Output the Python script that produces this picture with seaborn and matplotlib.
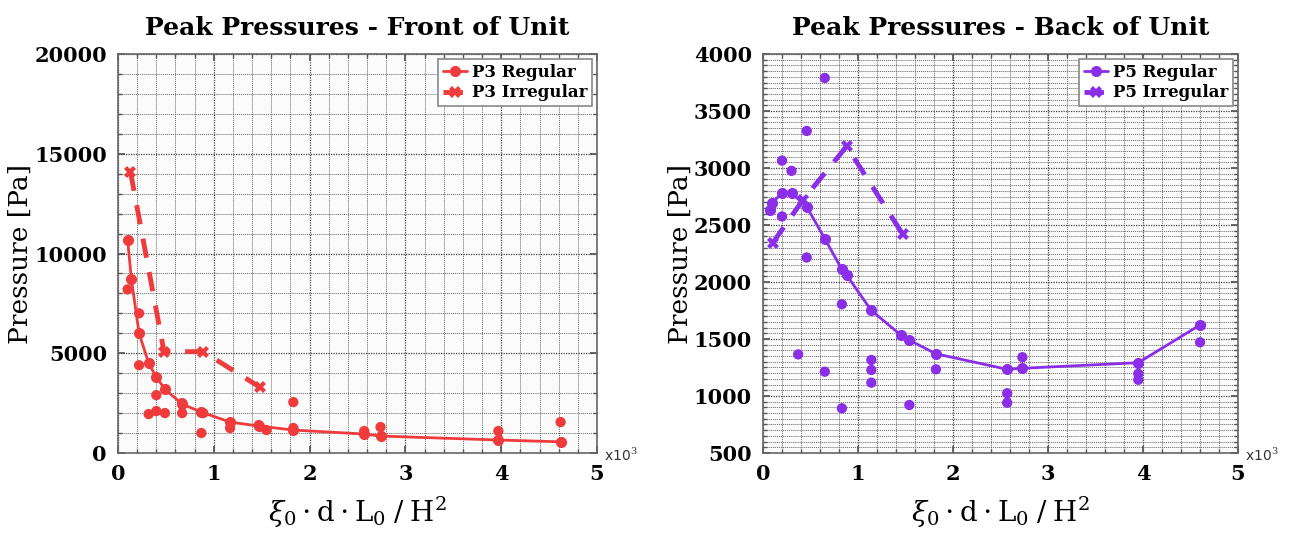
import numpy as np
import pandas as pd
import matplotlib
matplotlib.use("Agg")
import matplotlib.pyplot as plt
import seaborn as sns
from matplotlib.ticker import MultipleLocator

# front of unit (P3), x in units of 1e3
p3_reg_x = [0.10, 0.14, 0.22, 0.32, 0.40, 0.49, 0.67, 0.87, 1.17, 1.47, 1.83, 2.57, 2.74, 3.97, 4.62]
p3_reg_y = [10700, 8700, 6000, 4500, 3800, 3200, 2450, 2050, 1550, 1350, 1150, 950, 850, 650, 560]
p3_pts_x = [0.10, 0.22, 0.22, 0.32, 0.40, 0.40, 0.49, 0.67, 0.67, 0.87, 0.89, 1.17, 1.47, 1.55,
            1.83, 1.83, 2.57, 2.74, 3.97, 4.62]
p3_pts_y = [8200, 7000, 4400, 1950, 2900, 2100, 2000, 2000, 2500, 1000, 2000, 1250, 1400, 1150,
            2550, 1250, 1100, 1300, 1100, 1550]
p3_irr_x = [0.13, 0.48, 0.89, 1.48]
p3_irr_y = [14100, 5080, 5080, 3300]

# back of unit (P5)
p5_reg_x = [0.07, 0.09, 0.20, 0.30, 0.46, 0.65, 0.83, 0.88, 1.14, 1.45, 1.54, 1.82, 2.57, 2.73, 3.95, 4.60]
p5_reg_y = [2630, 2690, 2780, 2780, 2660, 2380, 2110, 2060, 1750, 1535, 1490, 1370, 1234, 1243, 1292, 1623]
p5_pts_x = [0.65, 0.46, 0.20, 0.30, 0.20, 0.46, 0.83, 0.37, 0.65, 1.14, 1.14, 1.14, 1.82, 0.83, 1.54,
            2.57, 2.57, 2.73, 3.95, 3.95, 4.60]
p5_pts_y = [3790, 3325, 3065, 2975, 2575, 2215, 1805, 1365, 1213, 1316, 1228, 1117, 1234, 892, 921,
            1024, 941, 1340, 1195, 1142, 1471]
p5_irr_x = [0.10, 0.42, 0.88, 1.47]
p5_irr_y = [2340, 2720, 3190, 2420]

red = "#ef3b3b"
purple = "#8b2ee8"

sns.set_theme(style="ticks")
plt.rcParams["font.family"] = ["DejaVu Serif"]
plt.rcParams["mathtext.fontset"] = "dejavuserif"
for k in ["text.color", "axes.labelcolor", "xtick.labelcolor", "ytick.labelcolor"]:
    plt.rcParams[k] = "black"

fig = plt.figure(figsize=(13.01, 5.44), dpi=100)
ax1 = fig.add_axes([0.0907, 0.1673, 0.3682, 0.7334])
ax2 = fig.add_axes([0.5865, 0.1673, 0.3651, 0.7334])


def panel(ax, rx, ry, px, py, ix, iy, color, name, title, ylim, ymaj, ymin):
    ax.set_facecolor("#fbfbfb")
    sns.lineplot(x=rx, y=ry, ax=ax, color=color, lw=2, marker="o", markersize=8,
                 markeredgewidth=0, sort=False, estimator=None, label=f"{name} Regular")
    sns.lineplot(x=ix, y=iy, ax=ax, color=color, lw=3.5, marker="X", markersize=9,
                 markeredgewidth=0, sort=False, estimator=None, label=f"{name} Irregular")
    ax.lines[-1].set_dashes([4, 3])
    sns.scatterplot(x=px, y=py, ax=ax, color=color, s=55, edgecolor="none", zorder=3)
    ax.set_xlim(0, 5)
    ax.set_ylim(*ylim)
    ax.xaxis.set_major_locator(MultipleLocator(1))
    ax.xaxis.set_minor_locator(MultipleLocator(0.2))
    ax.yaxis.set_major_locator(MultipleLocator(ymaj))
    ax.yaxis.set_minor_locator(MultipleLocator(ymin))
    ax.grid(which="major", color="#444444", lw=0.9, ls=(0, (1, 1)))
    ax.grid(which="minor", color="#666666", lw=0.7, ls=(0, (1, 1)))
    ax.set_axisbelow(True)
    ax.tick_params(which="both", direction="in", top=True, right=True, color="#555555")
    ax.tick_params(which="major", length=5, labelsize=15, pad=8)
    ax.tick_params(which="minor", length=3)
    for lab in ax.get_xticklabels() + ax.get_yticklabels():
        lab.set_fontweight("bold")
    for sp in ax.spines.values():
        sp.set_color("#666666")
        sp.set_linewidth(1.2)
    ax.set_title(title, fontsize=18, fontweight="bold", pad=14)
    ax.set_ylabel("Pressure [Pa]", fontsize=19, labelpad=1)
    ax.set_xlabel(r"$\xi_0 \cdot \mathrm{d} \cdot \mathrm{L}_0\; /\; \mathrm{H}^2$", fontsize=20, labelpad=8)
    leg = ax.legend(loc="upper right", prop={"weight": "bold", "size": 12},
                    handlelength=1.4, handletextpad=0.3, borderpad=0.3, labelspacing=0.2,
                    fancybox=False, framealpha=1, borderaxespad=0.3)
    leg.get_frame().set_edgecolor("#888888")
    leg.get_frame().set_linewidth(1.2)
    ax.text(1.015, -0.005, r"x10$^3$", transform=ax.transAxes, fontsize=10,
            family="DejaVu Sans", color="#333333", va="center", ha="left")


panel(ax1, p3_reg_x, p3_reg_y, p3_pts_x, p3_pts_y, p3_irr_x, p3_irr_y, red, "P3",
      "Peak Pressures - Front of Unit", (0, 20000), 5000, 1000)
panel(ax2, p5_reg_x, p5_reg_y, p5_pts_x, p5_pts_y, p5_irr_x, p5_irr_y, purple, "P5",
      "Peak Pressures - Back of Unit", (500, 4000), 500, 50)

fig.savefig("out.png", dpi=100)
